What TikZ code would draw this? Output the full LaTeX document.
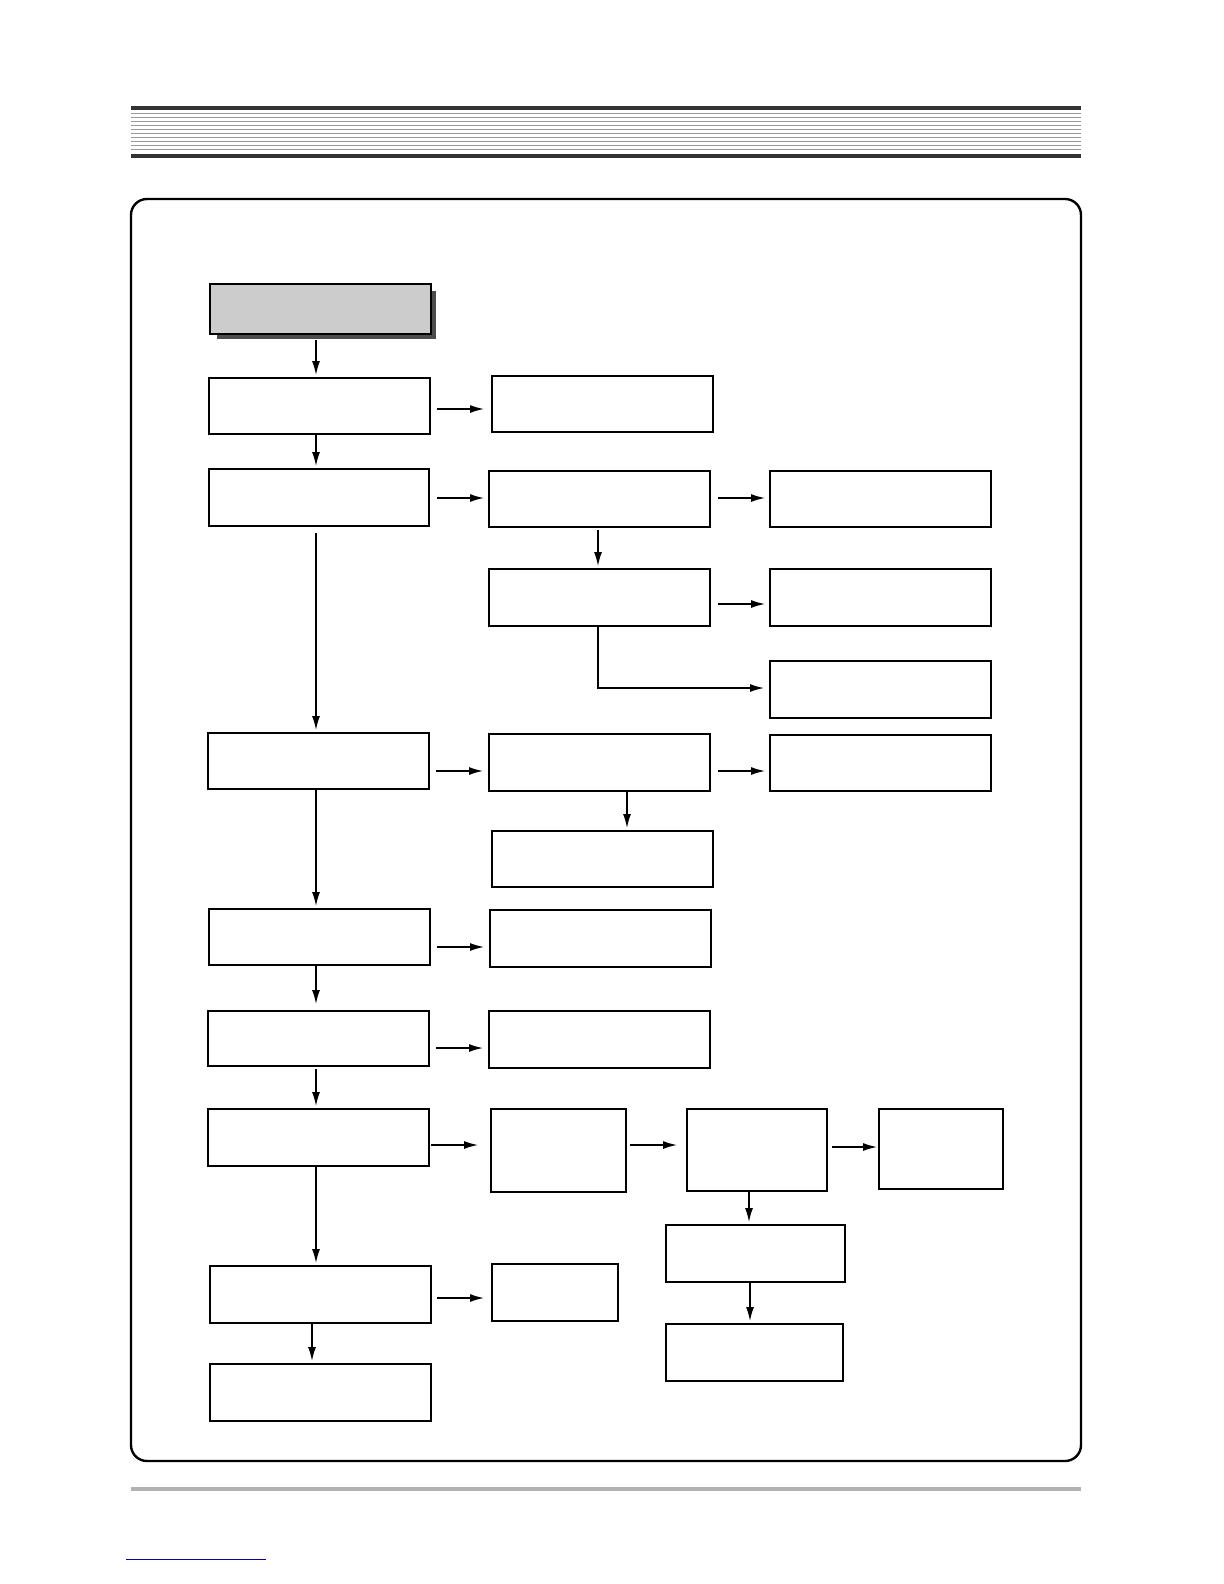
\documentclass[tikz,border=0pt]{standalone}
\usetikzlibrary{arrows.meta}
\begin{document}
\begin{tikzpicture}[x=0.5bp,y=-0.5bp,
 bx/.style={draw,line width=0.8pt,fill=white},
 ar/.style={-{Latex[length=7pt,width=4pt]},line width=0.7pt}]
\useasboundingbox (0,0) rectangle (1224,1584);
% header
\fill[black!80] (131,106) rectangle (1081,110);
\fill[black!80] (131,154) rectangle (1081,158);
\foreach \y in {113,117,...,151} \draw[black!40,line width=0.3pt] (131,\y)--(1081,\y);
% footer
\fill[black!30] (131,1487) rectangle (1081,1491);
\draw[blue!70!black,line width=0.5pt] (126,1559)--(266,1559);
% frame
\draw[line width=1.2pt,rounded corners=8pt] (131,199) rectangle (1081,1461);
% top box
\fill[black!70] (217,291) rectangle (436,339);
\newcommand\bxx[5]{\node[bx,anchor=north west,inner sep=0,minimum width={(#4-#2)*0.5bp},minimum height={(#5-#3)*0.5bp}] (#1) at (#2,#3) {};}
\node[bx,fill=black!20,anchor=north west,inner sep=0,minimum width={221*0.5bp},minimum height={50*0.5bp}] (top) at (209,283) {};
\bxx{b1}{208}{377}{429}{433}
\bxx{b1r}{491}{375}{712}{431}
\bxx{b2}{208}{468}{428}{525}
\bxx{b2r}{488}{470}{709}{526}
\bxx{b2rr}{769}{470}{990}{526}
\bxx{c}{488}{568}{709}{625}
\bxx{cr}{769}{568}{990}{625}
\bxx{crr}{769}{660}{990}{717}
\bxx{b3}{207}{732}{428}{788}
\bxx{b3r}{488}{733}{709}{790}
\bxx{b3rr}{769}{734}{990}{790}
\bxx{b3d}{491}{830}{712}{886}
\bxx{b4}{208}{908}{429}{964}
\bxx{b4r}{489}{909}{710}{966}
\bxx{b5}{207}{1010}{428}{1065}
\bxx{b5r}{488}{1010}{709}{1067}
\bxx{b6}{207}{1108}{428}{1165}
\bxx{b6r}{490}{1108}{625}{1191}
\bxx{b6rr}{686}{1108}{826}{1190}
\bxx{b6rrr}{878}{1108}{1002}{1188}
\bxx{d1}{665}{1224}{844}{1281}
\bxx{d2}{665}{1323}{842}{1380}
\bxx{b7}{209}{1265}{430}{1322}
\bxx{b7r}{491}{1263}{617}{1320}
\bxx{b8}{209}{1363}{430}{1420}
% vertical arrows
\draw[ar] (316,340)--(316,375);
\draw[ar] (316,433)--(316,466);
\draw[ar] (316,533)--(316,730);
\draw[ar] (316,788)--(316,906);
\draw[ar] (316,966)--(316,1004);
\draw[ar] (316,1069)--(316,1106);
\draw[ar] (316,1165)--(316,1263);
\draw[ar] (312,1324)--(312,1361);
\draw[ar] (598,530)--(598,566);
\draw[ar] (627,790)--(627,828);
\draw[ar] (749,1190)--(749,1222);
\draw[ar] (750,1283)--(750,1321);
% horizontal arrows
\draw[ar] (437,409)--(484,409);
\draw[ar] (437,498)--(484,498);
\draw[ar] (718,498)--(765,498);
\draw[ar] (718,604)--(765,604);
\draw[ar] (598,625)--(598,688)--(764,688);
\draw[ar] (436,771)--(483,771);
\draw[ar] (718,771)--(765,771);
\draw[ar] (437,947)--(484,947);
\draw[ar] (436,1048)--(483,1048);
\draw[ar] (431,1145)--(478,1145);
\draw[ar] (630,1145)--(677,1145);
\draw[ar] (832,1147)--(877,1147);
\draw[ar] (437,1298)--(484,1298);
\end{tikzpicture}
\end{document}
